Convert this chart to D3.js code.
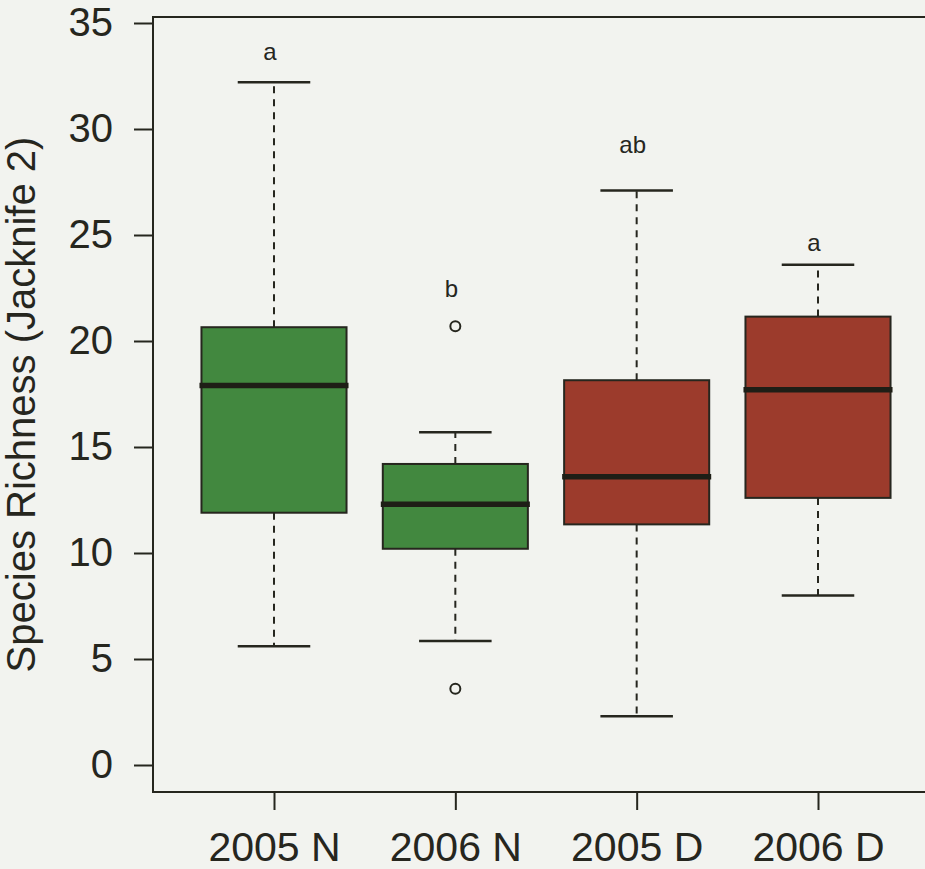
<!DOCTYPE html>
<html>
<head>
<meta charset="utf-8">
<script src="https://cdn.jsdelivr.net/npm/d3@7"></script>
<style>
  html, body { margin: 0; padding: 0; background: #f2f3ef; }
  svg { display: block; font-family: "Liberation Sans", Arial, sans-serif; }
</style>
</head>
<body>
<svg id="chart" width="925" height="869"></svg>
<script>
// Species richness (Jacknife 2) by year and site type
const categories = ["2005 N", "2006 N", "2005 D", "2006 D"];
const whiskerLow  = [5.6, 5.85, 2.3, 8.0];
const q1          = [11.9, 10.2, 11.35, 12.6];
const median      = [17.9, 12.3, 13.6, 17.7];
const q3          = [20.65, 14.2, 18.15, 21.15];
const whiskerHigh = [32.2, 15.7, 27.1, 23.6];
const outliers    = [[], [20.7, 3.6], [], []];
const groupLetters = ["a", "b", "ab", "a"];
const letterValues = [33.6, 22.4, 29.2, 24.6];
const yTicks = [0, 5, 10, 15, 20, 25, 30, 35];
const fills = ["#42883f", "#42883f", "#9c3b2c", "#9c3b2c"];

const ink = "#26261e";
const svg = d3.select("#chart");

// Plot frame (right edge extends past the view)
const frame = { left: 153, right: 938, top: 17, bottom: 792 };

const y = d3.scaleLinear().domain([0, 35]).range([765, 23]);
const x = d3.scalePoint().domain(categories).range([274, 818]);
const step = x.step();
const boxW = step * 0.8;
const capW = boxW * 0.5;

// frame
svg.append("rect")
  .attr("x", frame.left).attr("y", frame.top)
  .attr("width", frame.right - frame.left).attr("height", frame.bottom - frame.top)
  .attr("fill", "none").attr("stroke", ink).attr("stroke-width", 2);

// y axis
const yAxis = d3.axisLeft(y).tickValues(yTicks).tickSize(19).tickPadding(21);
const gy = svg.append("g").attr("transform", `translate(${frame.left},0)`).call(yAxis);
gy.select(".domain").remove();
gy.selectAll(".tick line").attr("stroke", ink).attr("stroke-width", 2);
gy.selectAll(".tick text").attr("fill", ink).attr("font-size", 40)
  .attr("font-family", "'Liberation Sans', Arial, sans-serif");

// x axis
const xAxis = d3.axisBottom(x).tickSize(18).tickPadding(22);
const gx = svg.append("g").attr("transform", `translate(0,${frame.bottom})`).call(xAxis);
gx.select(".domain").remove();
gx.selectAll(".tick line").attr("stroke", ink).attr("stroke-width", 2);
gx.selectAll(".tick text").attr("fill", ink).attr("font-size", 41)
  .attr("font-family", "'Liberation Sans', Arial, sans-serif");

// y axis title
svg.append("text")
  .attr("transform", `translate(35,${(frame.top + frame.bottom) / 2}) rotate(-90)`)
  .attr("text-anchor", "middle")
  .attr("font-size", 40)
  .attr("fill", ink)
  .text("Species Richness (Jacknife 2)");

// boxes
const groups = svg.append("g").selectAll("g").data(categories).join("g");

groups.each(function (c, i) {
  const g = d3.select(this);
  const cx = x(c);
  // whiskers (dashed)
  g.append("line").attr("x1", cx).attr("x2", cx)
    .attr("y1", y(q3[i])).attr("y2", y(whiskerHigh[i]))
    .attr("stroke", ink).attr("stroke-width", 2).attr("stroke-dasharray", "7,6");
  g.append("line").attr("x1", cx).attr("x2", cx)
    .attr("y1", y(q1[i])).attr("y2", y(whiskerLow[i]))
    .attr("stroke", ink).attr("stroke-width", 2).attr("stroke-dasharray", "7,6");
  // staples
  [whiskerHigh[i], whiskerLow[i]].forEach(v => {
    g.append("line").attr("x1", cx - capW / 2).attr("x2", cx + capW / 2)
      .attr("y1", y(v)).attr("y2", y(v))
      .attr("stroke", ink).attr("stroke-width", 2.5);
  });
  // box
  g.append("rect")
    .attr("x", cx - boxW / 2).attr("width", boxW)
    .attr("y", y(q3[i])).attr("height", y(q1[i]) - y(q3[i]))
    .attr("fill", fills[i]).attr("stroke", ink).attr("stroke-width", 2);
  // median
  g.append("line").attr("x1", cx - boxW / 2 - 2).attr("x2", cx + boxW / 2 + 2)
    .attr("y1", y(median[i])).attr("y2", y(median[i]))
    .attr("stroke", "#1e1e16").attr("stroke-width", 5.5);
  // outliers
  outliers[i].forEach(v => {
    g.append("circle").attr("cx", cx).attr("cy", y(v)).attr("r", 5)
      .attr("fill", "none").attr("stroke", ink).attr("stroke-width", 2);
  });
  // group letters
  g.append("text")
    .attr("x", cx - 4).attr("y", y(letterValues[i]))
    .attr("dy", "0.3em")
    .attr("text-anchor", "middle")
    .attr("font-size", 24)
    .attr("fill", ink)
    .text(groupLetters[i]);
});
</script>
</body>
</html>
